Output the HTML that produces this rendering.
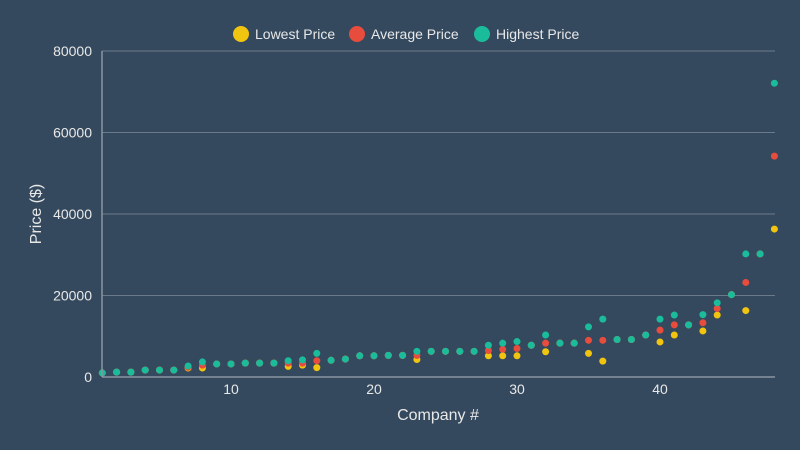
<!DOCTYPE html>
<html><head><meta charset="utf-8"><style>
body{margin:0;background:#34495e;}
svg{display:block;font-family:"Liberation Sans",sans-serif;}
</style></head><body>
<svg id="c" width="800" height="450">
<rect width="800" height="450" fill="#34495e"/>
<g id="grid"></g>
<g id="marks"></g>
<g id="axes"></g>
<text x="438" y="420" fill="#e8e8e8" font-size="16" text-anchor="middle">Company #</text>
<text transform="translate(41,214) rotate(-90)" fill="#e8e8e8" font-size="16" text-anchor="middle">Price ($)</text>
<g>
<g><circle cx="241" cy="34" r="8" fill="#f1c40f"/><text x="255" y="39" fill="#e8e8e8" font-size="14">Lowest Price</text></g>
<g><circle cx="357" cy="34" r="8" fill="#e74c3c"/><text x="371" y="39" fill="#e8e8e8" font-size="14">Average Price</text></g>
<g><circle cx="482" cy="34" r="8" fill="#1abc9c"/><text x="496" y="39" fill="#e8e8e8" font-size="14">Highest Price</text></g>
</g>
</svg>
<script>
const companies=[1,2,3,4,5,6,7,8,9,10,11,12,13,14,15,16,17,18,19,20,21,22,23,24,25,26,27,28,29,30,31,32,33,34,35,36,37,38,39,40,41,42,43,44,45,46,47,48];
const lowest=[1000,1200,1200,1700,1700,1700,2200,2200,3200,3200,3400,3400,3400,2600,2900,2300,4100,4400,5200,5200,5300,5300,4300,6300,6300,6300,6300,5200,5200,5200,7800,6200,8300,8300,5800,3900,9200,9200,10300,8600,10300,12800,11300,15200,20200,16300,30200,36300];
const average=[1000,1200,1200,1700,1700,1700,2400,2900,3200,3200,3400,3400,3400,3400,3400,4000,4100,4400,5200,5200,5300,5300,5300,6300,6300,6300,6300,6500,6800,7000,7800,8300,8300,8300,9000,9000,9200,9200,10300,11500,12800,12800,13300,16800,20200,23200,30200,54200];
const highest=[1000,1200,1200,1700,1700,1700,2700,3700,3200,3200,3400,3400,3400,4000,4200,5800,4100,4400,5200,5200,5300,5300,6300,6300,6300,6300,6300,7800,8300,8700,7800,10300,8300,8300,12300,14200,9200,9200,10300,14200,15200,12800,15300,18200,20200,30200,30200,72100];
const yTicks=[0,20000,40000,60000,80000];
const xTicks=[10,20,30,40];
const NS="http://www.w3.org/2000/svg";
const X=v=>102.3+(v-1)*14.3;
const Y=v=>377-v*0.004075;
function mk(tag,attrs,parent){const e=document.createElementNS(NS,tag);for(const k in attrs)e.setAttribute(k,attrs[k]);parent.appendChild(e);return e;}
const grid=document.getElementById('grid'),axes=document.getElementById('axes'),marks=document.getElementById('marks');
yTicks.forEach(t=>{
  if(t>0){const l=mk('line',{x1:102,x2:775,y1:Y(t),y2:Y(t),stroke:'#6b7a89','stroke-width':1},grid);
  
  }
  const tx=mk('text',{x:92,y:Y(t)+5,fill:'#e8e8e8','font-size':14,'text-anchor':'end'},axes);
  tx.textContent=t;
  
  
});
xTicks.forEach(t=>{
  const tx=mk('text',{x:X(t),y:394,fill:'#e8e8e8','font-size':14,'text-anchor':'middle'},axes);
  tx.textContent=t;
  
  
});
const ya=mk('line',{x1:102,x2:102,y1:51,y2:377,stroke:'#8a96a3','stroke-width':1.5},axes);


const xa=mk('line',{x1:102,x2:775,y1:377,y2:377,stroke:'#8a96a3','stroke-width':1.5},axes);


[[lowest,'#f1c40f','point-lowest'],[average,'#e74c3c','point-average'],[highest,'#1abc9c','point-highest']].forEach(([s,c,n])=>{
  s.forEach((v,i)=>{
    const p=mk('circle',{cx:X(companies[i]),cy:Y(v),r:3.5,fill:c},marks);
    
    
  });
});
</script>
</body></html>
